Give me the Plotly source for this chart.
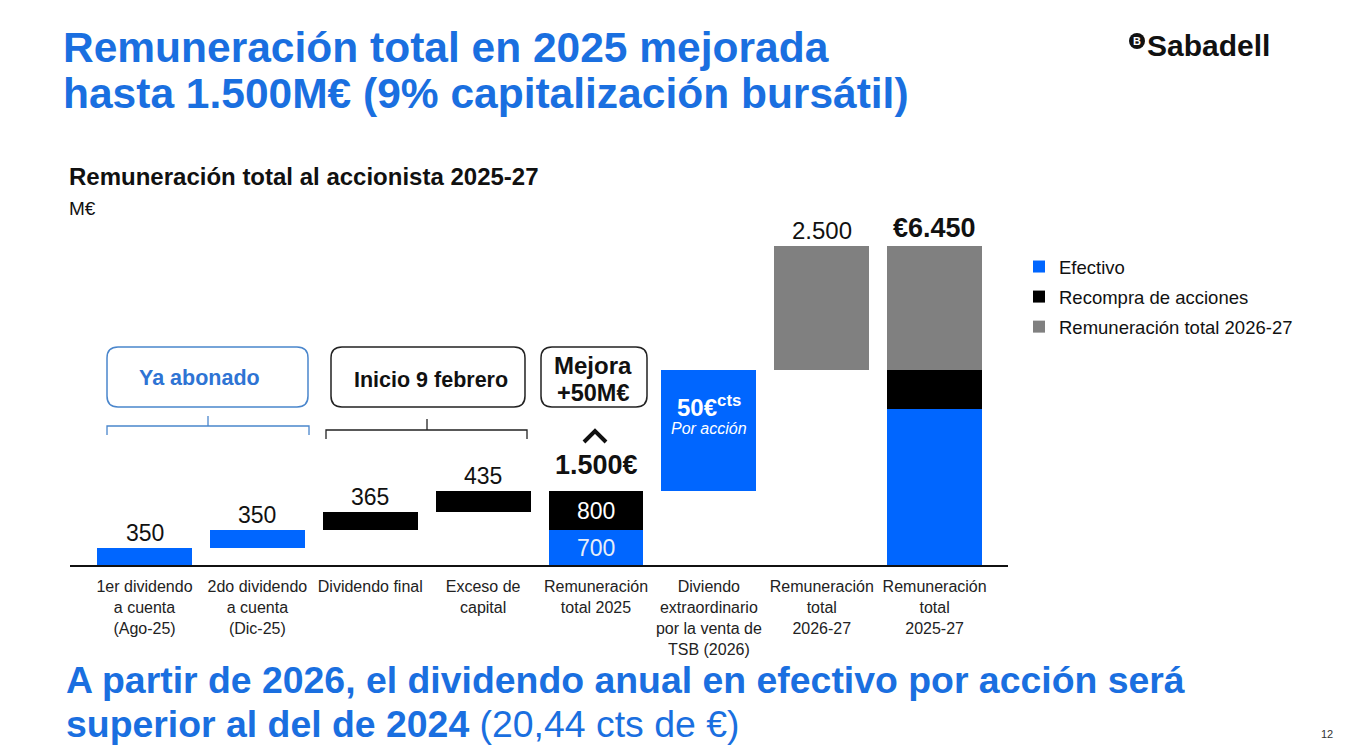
import plotly.graph_objects as go

# ---------------- data ----------------
categories = [
    "1er dividendo<br>a cuenta<br>(Ago-25)",
    "2do dividendo<br>a cuenta<br>(Dic-25)",
    "Dividendo final",
    "Exceso de<br>capital",
    "Remuneración<br>total 2025",
    "Diviendo<br>extraordinario<br>por la venta de<br>TSB (2026)",
    "Remuneración<br>total<br>2026-27",
    "Remuneración<br>total<br>2025-27",
]
kind = ["step", "step", "step", "step", "total", "step", "step", "total"]
efectivo = [350, 350, 0, 0, 700, 2450, 0, 3150]
recompra = [0, 0, 365, 435, 800, 0, 0, 800]
rem_2026_27 = [0, 0, 0, 0, 0, 0, 2500, 2500]
series_names = ["Efectivo", "Recompra de acciones", "Remuneración total 2026-27"]

# ---------------- style ----------------
BLUE = "#0066FF"
TITLE_BLUE = "#1A6FE0"
BLACK = "#000000"
GRAY = "#808080"
FONT = "Arial, Liberation Sans, sans-serif"

O = 8  # page body margin
PAGE_W, PAGE_H = 1361, 755
W, H = PAGE_W - 2 * O, PAGE_H - 2 * O
# plot area in page pixels
PL, PR, PT, PB = 70, 1008, 200, 565
L, R, T, B = PL - O, (O + W) - PR, PT - O, (O + H) - PB
PW, PH = PR - PL, PB - PT


def px(x):
    return (x - PL) / PW


def py(y):
    return (PB - y) / PH


# ---------------- waterfall bases ----------------
n = len(categories)
base = []
running = 0
for i in range(n):
    tot = efectivo[i] + recompra[i] + rem_2026_27[i]
    if kind[i] == "step":
        base.append(running)
        running += tot
    else:
        base.append(0)
tops = [base[i] + efectivo[i] + recompra[i] + rem_2026_27[i] for i in range(n)]


def pick(vals, bases):
    xs, ys, bs = [], [], []
    for i, v in enumerate(vals):
        if v:
            xs.append(i)
            ys.append(v)
            bs.append(bases[i])
    return xs, ys, bs


eff_base = base
rec_base = [base[i] + efectivo[i] for i in range(n)]
rem_base = [base[i] + efectivo[i] + recompra[i] for i in range(n)]

fig = go.Figure()
for k, (vals, bases, name, col) in enumerate([
    (efectivo, eff_base, series_names[0], BLUE),
    (recompra, rec_base, series_names[1], BLACK),
    (rem_2026_27, rem_base, series_names[2], GRAY),
]):
    xs, ys, bs = pick(vals, bases)
    fig.add_trace(go.Bar(
        x=xs, y=ys, base=bs, name=name, width=0.84, legendgroup=f"g{k}",
        marker=dict(color=col, line=dict(width=0)),
        hoverinfo="skip",
    ))


def fmt(v):
    return f"{v:,}".replace(",", ".")


ann = []
# value labels above step bars
for i in range(4):
    v = efectivo[i] + recompra[i]
    ann.append(dict(x=i, y=tops[i], xref="x", yref="y", text=fmt(v), showarrow=False,
                    yanchor="bottom", yshift=0, font=dict(size=23, color="#111", family=FONT)))
# inside labels total 2025
ann.append(dict(x=4, y=recompra[4] / 2 + efectivo[4], xref="x", yref="y", text=fmt(recompra[4]),
                showarrow=False, font=dict(size=23, color="white", family=FONT)))
ann.append(dict(x=4, y=efectivo[4] / 2, xref="x", yref="y", text=fmt(efectivo[4]),
                showarrow=False, font=dict(size=23, color="#E8EEF8", family=FONT)))
ann.append(dict(x=4, y=tops[4], xref="x", yref="y", text="<b>" + fmt(tops[4]) + "€</b>",
                showarrow=False, yanchor="bottom", yshift=9, font=dict(size=27, color="#111", family=FONT)))
# TSB bar
ann.append(dict(x=5, y=tops[5], xref="x", yref="y", text="<b>50€<sup>cts</sup></b>", showarrow=False,
                yanchor="top", yshift=-19, font=dict(size=24, color="white", family=FONT)))
ann.append(dict(x=5, y=tops[5], xref="x", yref="y", text="<i>Por acción</i>", showarrow=False,
                yanchor="top", yshift=-48, font=dict(size=16, color="white", family=FONT)))
# 2026-27 & total
ann.append(dict(x=6, y=tops[6], xref="x", yref="y", text=fmt(rem_2026_27[6]), showarrow=False,
                yanchor="bottom", yshift=0, font=dict(size=24, color="#111", family=FONT)))
ann.append(dict(x=7, y=tops[7], xref="x", yref="y", text="<b>€" + fmt(tops[7]) + "</b>", showarrow=False,
                yanchor="bottom", yshift=1, font=dict(size=27, color="#111", family=FONT)))


# titles and texts (page-pixel positions)
def txt(x, y, text, size, color, anchor="left"):
    ann.append(dict(x=px(x), y=py(y), xref="paper", yref="paper", text=text, showarrow=False,
                    xanchor=anchor, yanchor="middle", font=dict(size=size, color=color, family=FONT)))


txt(61, 48, "<b>Remuneración total en 2025 mejorada</b>", 42.5, TITLE_BLUE)
txt(61, 93, "<b>hasta 1.500M€ (9% capitalización bursátil)</b>", 42.5, TITLE_BLUE)
txt(67, 177, "<b>Remuneración total al accionista 2025-27</b>", 24, "#111")
txt(67, 208, "M€", 19, "#111")
txt(64, 680, "<b>A partir de 2026, el dividendo anual en efectivo por acción será</b>", 37.4, TITLE_BLUE)
txt(64, 724, "<b>superior al del de 2024</b> (20,44 cts de €)", 37.4, TITLE_BLUE)
txt(1327, 734, "12", 11, "#333", "center")
txt(1145, 45, "<b>Sabadell</b>", 30, "#111")
txt(1137, 41, "<b>B</b>", 11, "white", "center")
txt(199, 378, "<b>Ya abonado</b>", 21.5, "#2E74D4", "center")
txt(431, 380, "<b>Inicio 9 febrero</b>", 21.5, "#111", "center")
txt(593, 365, "<b>Mejora</b>", 24, "#111", "center")
txt(593, 393, "<b>+50M€</b>", 23.5, "#111", "center")


def line_path(pts):
    s = f"M{px(pts[0][0]):.5f},{py(pts[0][1]):.5f}"
    for a, b in pts[1:]:
        s += f" L{px(a):.5f},{py(b):.5f}"
    return s


def rrect(x0, y0, x1, y1, r):
    def p(a, b):
        return f"{px(a):.5f},{py(b):.5f}"
    return (f"M{p(x0 + r, y0)} L{p(x1 - r, y0)} Q{p(x1, y0)} {p(x1, y0 + r)} "
            f"L{p(x1, y1 - r)} Q{p(x1, y1)} {p(x1 - r, y1)} L{p(x0 + r, y1)} "
            f"Q{p(x0, y1)} {p(x0, y1 - r)} L{p(x0, y0 + r)} Q{p(x0, y0)} {p(x0 + r, y0)} Z")


BR_BLUE = "#4A86CC"
shapes = [
    dict(type="path", xref="paper", yref="paper", path=rrect(107, 347, 308, 407, 11),
         line=dict(color=BR_BLUE, width=1.5)),
    dict(type="path", xref="paper", yref="paper", path=rrect(331, 347, 525, 407, 11),
         line=dict(color="#222", width=1.5)),
    dict(type="path", xref="paper", yref="paper", path=rrect(541, 347, 647, 407, 11),
         line=dict(color="#222", width=1.5)),
    # brackets
    dict(type="path", xref="paper", yref="paper",
         path=line_path([(107, 435), (107, 426), (309, 426), (309, 435)]),
         line=dict(color=BR_BLUE, width=1.3)),
    dict(type="path", xref="paper", yref="paper",
         path=line_path([(208, 426), (208, 416)]),
         line=dict(color=BR_BLUE, width=1.3)),
    dict(type="path", xref="paper", yref="paper",
         path=line_path([(326, 439), (326, 430), (527, 430), (527, 439)]),
         line=dict(color="#222", width=1.3)),
    dict(type="path", xref="paper", yref="paper",
         path=line_path([(427, 430), (427, 419)]),
         line=dict(color="#222", width=1.3)),
    # chevron
    dict(type="path", xref="paper", yref="paper",
         path=line_path([(584, 442), (595, 431), (606, 442)]),
         line=dict(color="#111", width=4)),
    # logo circle
    dict(type="circle", xref="paper", yref="paper", x0=px(1129), x1=px(1145), y0=py(33), y1=py(49),
         fillcolor="#111", line=dict(width=0)),
]

fig.update_layout(
    width=W, height=H,
    margin=dict(l=L, r=R, t=T, b=B, pad=0),
    paper_bgcolor="white", plot_bgcolor="white",
    barmode="overlay", bargap=0,
    font=dict(family=FONT, color="#111"),
    showlegend=True,
    legend=dict(x=px(1019), y=py(248), xanchor="left", yanchor="top",
                font=dict(size=18.5, color="#111", family=FONT),
                bgcolor="rgba(0,0,0,0)", traceorder="grouped", tracegroupgap=3),
    annotations=ann,
    shapes=shapes,
    xaxis=dict(range=[-0.66, 7.65], tickmode="array", tickvals=list(range(n)), ticktext=categories,
               showline=True, linecolor="#111", linewidth=2, showgrid=False, zeroline=False,
               ticks="outside", ticklen=6, tickcolor="rgba(0,0,0,0)",
               tickfont=dict(size=16, color="#222", family=FONT), fixedrange=True),
    yaxis=dict(range=[0, PH / 0.0494], visible=False, showgrid=False, zeroline=False, fixedrange=True),
)

fig.write_html("out.html")
